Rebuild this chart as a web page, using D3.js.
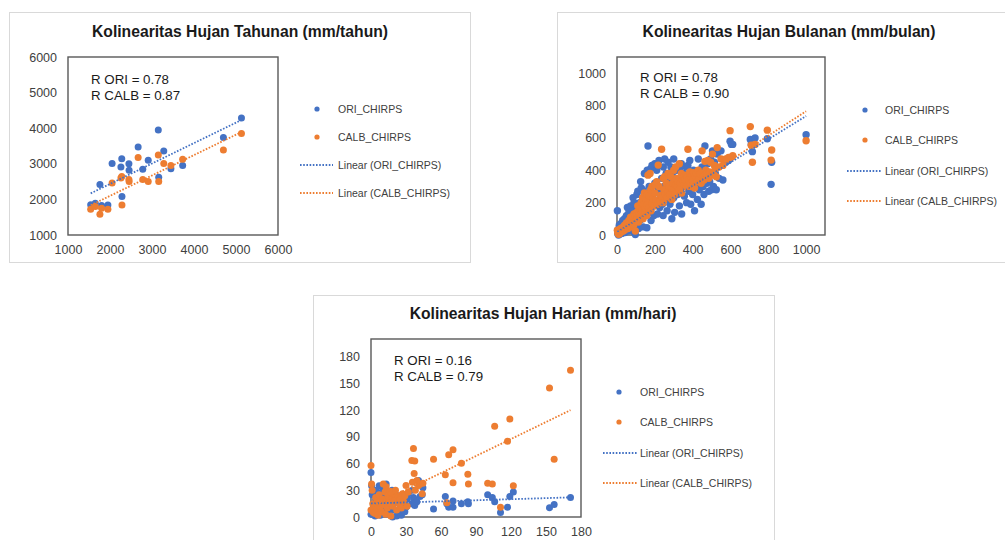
<!DOCTYPE html>
<html>
<head>
<meta charset="utf-8">
<script src="https://cdn.jsdelivr.net/npm/d3@7"></script>
<style>
  body { margin: 0; background: #fff; }
  svg { display: block; }
  text { font-family: "Liberation Sans", Arial, Helvetica, sans-serif; }
</style>
</head>
<body>
<svg id="chart" width="1005" height="540"></svg>
<script>
// ---------- Annual rainfall (mm/tahun): observed vs CHIRPS ----------
const tahunanObs  = [1540, 1650, 1760, 1800, 1950, 2050, 2260, 2280, 2285, 2450, 2455, 2670, 2780, 2910, 3150, 3160, 3280, 3450, 3730, 4700, 5130];
const tahunanOri  = [1850, 1890, 2420, 1830, 1840, 3010, 2910, 3140, 2080, 3000, 2820, 3470, 2850, 3100, 3950, 2620, 3360, 2860, 2950, 3740, 4290];
const tahunanCalb = [1720, 1800, 1580, 1750, 1720, 2460, 2600, 2640, 1840, 2560, 2500, 3180, 2560, 2500, 3250, 2500, 3010, 2950, 3130, 3390, 3850];

// ---------- Monthly rainfall (mm/bulan) ----------
const bulananObs = [2, 4, 6, 8, 10, 12, 14, 16, 18, 20, 22, 25, 28, 30, 33, 36, 40, 42, 45, 48,
  50, 54, 55, 58, 60, 63, 66, 70, 72, 75, 78, 80, 84, 85, 88, 90, 93, 96, 97, 100, 104, 105, 108,
  110, 114, 118, 120, 124, 125, 128, 130, 134, 135, 138, 140, 145, 148, 150, 155, 158, 160, 160, 164, 168, 170, 175,
  178, 180, 185, 185, 190, 195, 200, 200, 205, 210, 214, 218, 222, 226, 230, 236, 240, 244, 245, 248, 252, 256, 260,
  265, 270, 270, 275, 280, 285, 290, 290, 295, 300, 300, 305, 310, 310, 315, 320, 325, 330, 330, 335, 340, 342, 348, 352, 356,
  360, 365, 368, 372, 375, 380, 385, 390, 395, 400, 405, 410, 415, 420, 425, 430, 435, 440, 445, 450,
  455, 460, 465, 470, 475, 480, 485, 490, 495, 500, 505, 510, 515, 520, 525, 530, 540, 550, 560, 575,
  590, 598, 605, 612, 705, 710, 716, 730, 795, 815, 818, 1000];
const bulananOri = [150, 8, 35, 0, 22, 60, 5, 40, 12, 70, 28, 10, 55, 90, 20, 48, 100, 15, 70, 35,
  120, 60, 170, 25, 95, 140, 45, 80, 180, 30, 110, 60, 150, 230, 20, 200, 90, 130, 3, 60, 170, 250, 110,
  270, 40, 150, 200, 95, 330, 290, 130, 180, 280, 50, 230, 380, 120, 160, 260, 45, 200, 400, 550, 140, 300, 220,
  410, 90, 180, 430, 250, 120, 320, 440, 200, 400, 130, 280, 460, 170, 240, 350, 190, 120, 420, 300, 470, 220, 380,
  150, 260, 450, 330, 190, 420, 270, 100, 360, 230, 470, 140, 300, 350, 400, 250, 340, 180, 410, 280, 440, 130, 320, 380, 240,
  300, 420, 200, 350, 430, 270, 460, 190, 330, 250, 400, 150, 300, 360, 220, 470, 280, 340, 190, 420,
  300, 250, 550, 380, 320, 440, 270, 330, 470, 280, 520, 300, 450, 380, 280, 500, 350, 520, 340, 450,
  460, 580, 560, 560, 590, 560, 515, 600, 595, 313, 450, 620];
const bulananCalb = [30, 12, 20, 5, 15, 28, 10, 35, 22, 40, 18, 30, 45, 38, 25, 50, 60, 32, 55, 42,
  75, 48, 60, 40, 70, 90, 58, 85, 110, 50, 95, 70, 115, 110, 60, 130, 100, 120, 25, 85, 140, 120, 105,
  180, 80, 135, 160, 110, 170, 200, 140, 155, 230, 100, 190, 260, 145, 170, 210, 120, 185, 250, 370, 165, 240, 380,
  280, 150, 195, 300, 225, 180, 260, 310, 215, 330, 190, 432, 300, 210, 245, 530, 230, 200, 350, 280, 360, 250, 320,
  230, 270, 380, 300, 250, 360, 290, 220, 320, 280, 400, 250, 310, 420, 350, 300, 330, 280, 440, 320, 380, 260, 340, 360, 310,
  340, 370, 300, 360, 530, 340, 390, 300, 370, 340, 385, 290, 360, 380, 330, 400, 350, 380, 320, 520,
  360, 340, 455, 400, 380, 460, 350, 390, 450, 370, 500, 380, 430, 410, 360, 540, 420, 470, 430, 470,
  480, 645, 480, 490, 670, 555, 450, 560, 648, 463, 525, 582];

// ---------- Daily rainfall (mm/hari) ----------
const harianObs = [0, 0.5, 1, 0, 1.5, 2, 3, 3.5, 4, 5, 5.5, 6, 7, 7.5, 8, 9, 10, 10.5, 11, 12,
  12.5, 13, 14, 14.5, 15, 16, 16.5, 17, 18, 18.5, 19, 20, 21, 22, 23, 24, 25, 26, 27, 28,
  29, 30, 31, 32, 35, 35.5, 36.4, 37, 37.5, 38, 39.3, 40.7, 42, 43.9, 44.5, 53.6, 63.7, 65, 66.6, 70.3,
  70.3, 77.5, 83, 83.5, 100, 104, 106, 111, 117, 119, 122, 153, 157, 171];
const harianOri = [50, 35, 25, 3, 8, 15, 30, 1, 20, 10, 28, 5, 35, 18, 2, 26, 12, 32, 7, 22,
  3, 37, 15, 9, 27, 4, 19, 12, 30, 0, 22, 8, 16, 1, 24, 5, 14, 2, 25, 10,
  6, 11, 20, 26, 15, 30, 22, 20, 13, 16, 17, 41, 23, 25, 33, 9, 23, 15, 11, 11,
  18, 15, 17, 15, 25, 22, 17, 5, 11, 23, 28, 10.5, 14, 22];
const harianCalb = [58, 37, 30, 8, 15, 5, 12, 4, 22, 9, 18, 2, 25, 17, 11, 6, 20, 37, 14, 28,
  3, 34, 10, 24, 20, 16, 29, 1, 26, 12, 22, 18, 30, 8, 24, 15, 20, 10, 26, 17,
  24, 35.5, 12, 28, 63.5, 39, 77, 49, 63, 30, 41, 35.5, 37, 26, 38, 65, 47.5, 16, 70, 75.5,
  38.5, 60.5, 48, 37, 38, 37, 102, 11, 85, 110, 35, 145, 65, 165];

// Linear trendline coefficients [intercept, slope]
const tahunanTrendOri  = [1286, 0.574];
const tahunanTrendCalb = [953, 0.573];
const bulananTrendOri  = [18, 0.717];
const bulananTrendCalb = [8, 0.757];
const harianTrendOri   = [15.2, 0.04];
const harianTrendCalb  = [11.3, 0.636];

// Axis tick labels
const tahunanTicks = [1000, 2000, 3000, 4000, 5000, 6000];
const bulananTicks = [0, 200, 400, 600, 800, 1000];
const harianTicks  = [0, 30, 60, 90, 120, 150, 180];

const legendLabels = ["ORI_CHIRPS", "CALB_CHIRPS", "Linear (ORI_CHIRPS)", "Linear (CALB_CHIRPS)"];
const BLUE = "#4472C4", ORANGE = "#ED7D31";

const svg = d3.select("#chart");

function drawPanel(cfg) {
  const g = svg.append("g");
  const [px, py, pw, ph] = cfg.panel;
  g.append("rect")
    .attr("x", px + 0.5).attr("y", py + 0.5)
    .attr("width", pw).attr("height", ph)
    .attr("fill", "#fff").attr("stroke", "#d9d9d9").attr("stroke-width", 1);

  g.append("text")
    .attr("x", cfg.titlePos[0]).attr("y", cfg.titlePos[1])
    .attr("text-anchor", "middle")
    .attr("font-size", 15.7).attr("font-weight", "bold").attr("fill", "#1a1a1a")
    .text(cfg.title);

  const p = cfg.plot;
  const x = d3.scaleLinear().domain(cfg.xDomain).range([p.left, p.right]);
  const y = d3.scaleLinear().domain(cfg.yDomain).range([p.bottom, p.top]);
  const fmt = d3.format("d");

  const xAxis = g.append("g").attr("transform", `translate(0,${p.bottom})`)
    .call(d3.axisBottom(x).tickValues(cfg.ticks).tickFormat(fmt).tickSize(0).tickPadding(10.5));
  const yAxis = g.append("g").attr("transform", `translate(${p.left},0)`)
    .call(d3.axisLeft(y).tickValues(cfg.ticks).tickFormat(fmt).tickSize(0).tickPadding(11));
  [xAxis, yAxis].forEach(a => {
    a.select(".domain").remove();
    a.selectAll("text")
      .attr("font-family", '"Liberation Sans", Arial, sans-serif')
      .attr("font-size", 12.5).attr("fill", "#404040");
  });

  // plot area frame
  g.append("rect")
    .attr("x", p.left).attr("y", p.top)
    .attr("width", p.right - p.left).attr("height", p.bottom - p.top)
    .attr("fill", "none").attr("stroke", "#595959").attr("stroke-width", 1.4);

  // scatter points: ORI first, CALB drawn on top
  const series = [
    { vals: cfg.ori, color: BLUE },
    { vals: cfg.calb, color: ORANGE }
  ];
  series.forEach(s => {
    g.append("g").selectAll("circle")
      .data(cfg.obs.map((v, i) => [v, s.vals[i]]))
      .join("circle")
      .attr("cx", d => x(d[0])).attr("cy", d => y(d[1]))
      .attr("r", cfg.r).attr("fill", s.color);
  });

  // linear trendlines over the observed range
  const xMin = d3.min(cfg.obs), xMax = d3.max(cfg.obs);
  [[cfg.trendOri, BLUE], [cfg.trendCalb, ORANGE]].forEach(([c, col]) => {
    g.append("line")
      .attr("x1", x(xMin)).attr("y1", y(c[0] + c[1] * xMin))
      .attr("x2", x(xMax)).attr("y2", y(c[0] + c[1] * xMax))
      .attr("stroke", col).attr("stroke-width", 1.8)
      .attr("stroke-dasharray", "1.6,1.6");
  });

  // correlation note
  const note = g.append("text").attr("font-size", 13.3).attr("fill", "#1a1a1a");
  note.append("tspan").attr("x", cfg.notePos[0]).attr("y", cfg.notePos[1]).text(cfg.note[0]);
  note.append("tspan").attr("x", cfg.notePos[0]).attr("y", cfg.notePos[1] + 15.5).text(cfg.note[1]);

  // legend
  const L = cfg.legend;
  legendLabels.forEach((lab, i) => {
    const ly = L.rows[i];
    const col = i % 2 === 0 ? BLUE : ORANGE;
    if (i < 2) {
      g.append("circle").attr("cx", L.marker).attr("cy", ly).attr("r", 2.6).attr("fill", col);
    } else {
      g.append("line")
        .attr("x1", L.line[0]).attr("x2", L.line[1]).attr("y1", ly).attr("y2", ly)
        .attr("stroke", col).attr("stroke-width", 1.8).attr("stroke-dasharray", "1.6,1.6");
    }
    g.append("text").attr("x", L.text).attr("y", ly).attr("dy", "0.35em")
      .attr("font-size", 10.5).attr("fill", "#404040").text(lab);
  });
}

drawPanel({
  panel: [9, 12, 461, 250],
  title: "Kolinearitas Hujan Tahunan (mm/tahun)",
  titlePos: [240, 37],
  plot: { left: 68, right: 278, top: 57, bottom: 235 },
  xDomain: [1000, 6000], yDomain: [1000, 6000], ticks: tahunanTicks, r: 3.5,
  obs: tahunanObs, ori: tahunanOri, calb: tahunanCalb,
  trendOri: tahunanTrendOri, trendCalb: tahunanTrendCalb,
  note: ["R ORI = 0.78", "R CALB = 0.87"], notePos: [91, 84],
  legend: { marker: 317, text: 338, line: [300, 333], rows: [109, 137, 165, 193] }
});

drawPanel({
  panel: [557, 12, 460, 250],
  title: "Kolinearitas Hujan Bulanan (mm/bulan)",
  titlePos: [789, 37],
  plot: { left: 617, right: 825, top: 57, bottom: 235 },
  xDomain: [0, 1100], yDomain: [0, 1100], ticks: bulananTicks, r: 3.7,
  obs: bulananObs, ori: bulananOri, calb: bulananCalb,
  trendOri: bulananTrendOri, trendCalb: bulananTrendCalb,
  note: ["R ORI = 0.78", "R CALB = 0.90"], notePos: [640, 82],
  legend: { marker: 865, text: 885, line: [847, 881], rows: [110, 140, 171, 201] }
});

drawPanel({
  panel: [313, 295, 461, 260],
  title: "Kolinearitas Hujan Harian (mm/hari)",
  titlePos: [543, 319],
  plot: { left: 371, right: 581, top: 339, bottom: 517 },
  xDomain: [0, 180], yDomain: [0, 200], ticks: harianTicks, r: 3.5,
  obs: harianObs, ori: harianOri, calb: harianCalb,
  trendOri: harianTrendOri, trendCalb: harianTrendCalb,
  note: ["R ORI = 0.16", "R CALB = 0.79"], notePos: [394, 365],
  legend: { marker: 619, text: 640, line: [603, 638], rows: [392, 422, 453, 483] }
});
</script>
</body>
</html>
